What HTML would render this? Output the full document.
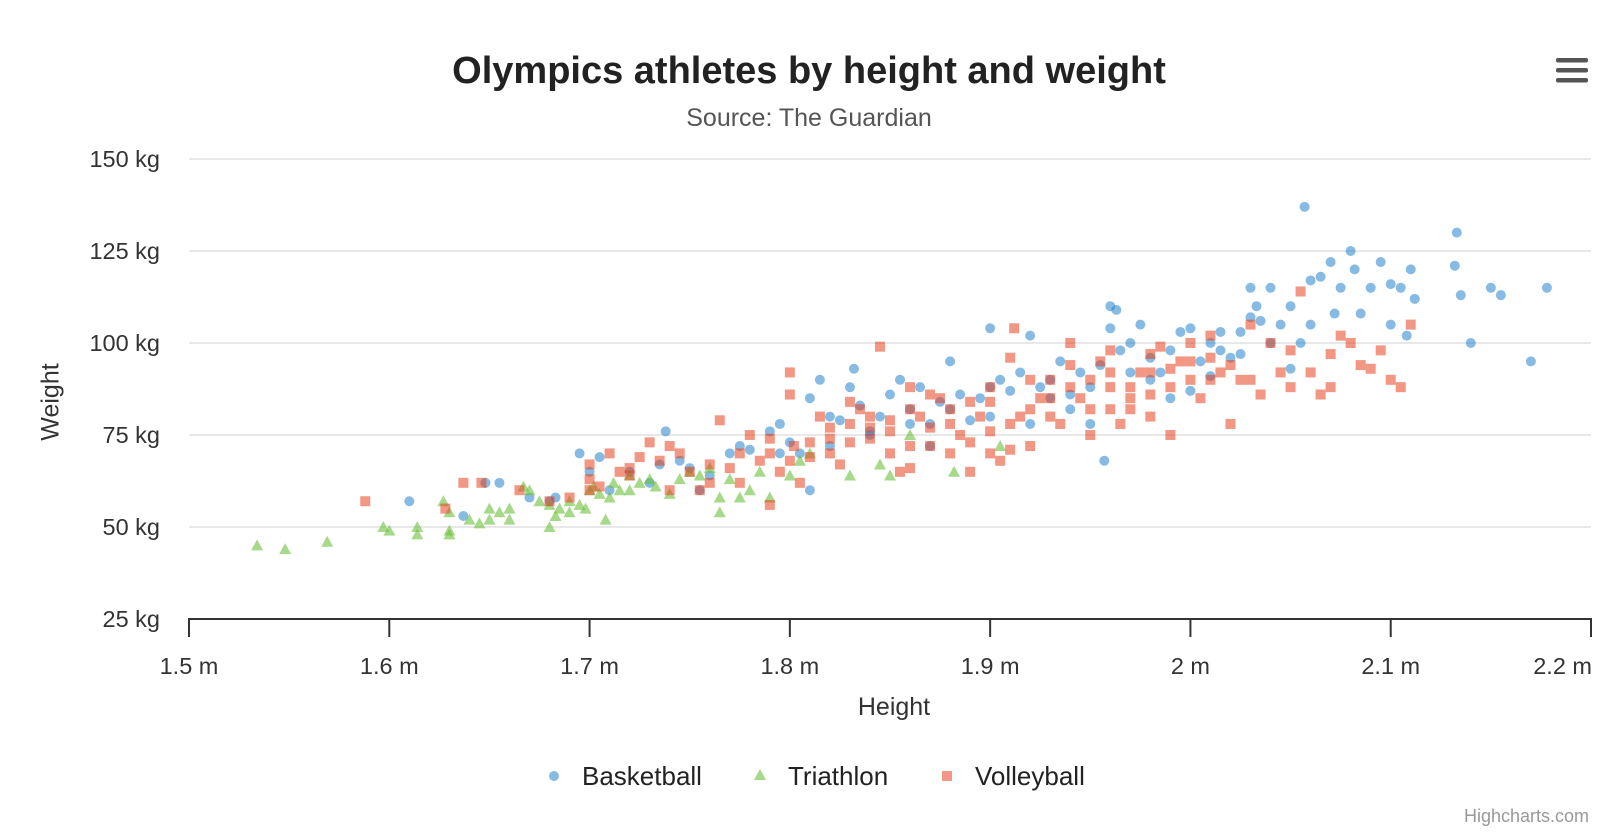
<!DOCTYPE html>
<html><head><meta charset="utf-8"><style>
html,body{margin:0;padding:0;background:#fff;}
svg{display:block;font-family:"Liberation Sans",Helvetica,Arial,sans-serif;}
</style></head><body>
<svg id="chart" width="1618" height="834" viewBox="0 0 1618 834">
<text x="809" y="83" text-anchor="middle" font-size="38" font-weight="bold" fill="#222">Olympics athletes by height and weight</text>
<text x="809" y="126" text-anchor="middle" font-size="25" fill="#555">Source: The Guardian</text>
<g>
<rect x="1556" y="58" width="32" height="4.5" rx="2" fill="#555"/>
<rect x="1556" y="68" width="32" height="4.5" rx="2" fill="#555"/>
<rect x="1556" y="78" width="32" height="4.5" rx="2" fill="#555"/>
</g>
<g id="grid"></g>
<g id="yticks"></g>
<g id="xaxis"></g>
<text x="52" y="402" transform="rotate(-90 52 402)" text-anchor="middle" dominant-baseline="middle" font-size="25" fill="#333">Weight</text>
<text x="894" y="715" text-anchor="middle" font-size="25" fill="#333">Height</text>
<g id="points"></g>
<g>
<g><circle cx="554" cy="776" r="5" fill="rgba(37,132,205,0.55)"/><text x="582" y="785" font-size="26" fill="#222">Basketball</text></g>
<g><polygon points="760,769 766,780 754,780" fill="rgba(107,191,59,0.6)"/><text x="788" y="785" font-size="26" fill="#222">Triathlon</text></g>
<g><rect x="942" y="771" width="10" height="10" fill="rgba(232,66,31,0.55)"/><text x="975" y="785" font-size="26" fill="#222">Volleyball</text></g>
</g>
<text x="1589" y="822" text-anchor="end" font-size="18" fill="#999">Highcharts.com</text>
</svg>
<script>
const xTicks=[1.5,1.6,1.7,1.8,1.9,2.0,2.1,2.2];
const xTickLabels=["1.5 m","1.6 m","1.7 m","1.8 m","1.9 m","2 m","2.1 m","2.2 m"];
const yTicks=[25,50,75,100,125,150];
const yTickLabels=["25 kg","50 kg","75 kg","100 kg","125 kg","150 kg"];
const triathlon=[[1.534,45],[1.548,44],[1.569,46],[1.597,50],[1.6,49],[1.614,50],[1.614,48],[1.627,57],[1.63,49],[1.63,48],[1.64,52],[1.645,51],[1.65,52],[1.655,54],[1.66,55],[1.66,52],[1.667,61],[1.67,60],[1.675,57],[1.68,56],[1.68,50],[1.683,53],[1.685,55],[1.69,57],[1.69,54],[1.695,56],[1.698,55],[1.7,60],[1.702,61],[1.705,59],[1.708,52],[1.71,58],[1.712,62],[1.715,60],[1.72,64],[1.725,62],[1.73,63],[1.733,61],[1.74,59],[1.745,63],[1.75,65],[1.755,64],[1.76,66],[1.765,58],[1.765,54],[1.77,63],[1.775,58],[1.78,60],[1.785,65],[1.79,58],[1.8,64],[1.805,68],[1.81,70],[1.83,64],[1.845,67],[1.85,64],[1.86,75],[1.882,65],[1.905,72],[1.63,54],[1.65,55],[1.72,60]];
const basketball=[[1.61,57],[1.637,53],[1.648,62],[1.655,62],[1.67,58],[1.68,57],[1.683,58],[1.695,70],[1.7,65],[1.705,69],[1.71,60],[1.72,65],[1.73,62],[1.735,67],[1.738,76],[1.745,68],[1.75,66],[1.755,60],[1.76,64],[1.77,70],[1.775,72],[1.78,71],[1.79,76],[1.795,78],[1.8,73],[1.805,70],[1.81,85],[1.815,90],[1.82,80],[1.825,79],[1.83,88],[1.832,93],[1.835,83],[1.84,75],[1.845,80],[1.85,86],[1.855,90],[1.86,82],[1.865,88],[1.87,78],[1.875,84],[1.88,95],[1.885,86],[1.89,79],[1.895,85],[1.9,88],[1.9,104],[1.905,90],[1.91,87],[1.915,92],[1.92,102],[1.925,88],[1.93,90],[1.935,95],[1.94,86],[1.945,92],[1.95,88],[1.955,94],[1.96,110],[1.963,109],[1.965,98],[1.97,100],[1.975,105],[1.98,96],[1.985,92],[1.99,98],[1.995,103],[2.0,104],[2.005,95],[2.01,100],[2.015,98],[2.02,96],[2.025,103],[2.03,115],[2.033,110],[2.035,106],[2.04,115],[2.045,105],[2.05,110],[2.055,100],[2.057,137],[2.06,117],[2.065,118],[2.07,122],[2.072,108],[2.075,115],[2.08,125],[2.082,120],[2.085,108],[2.09,115],[2.095,122],[2.1,116],[2.1,105],[2.105,115],[2.108,102],[2.11,120],[2.112,112],[2.133,130],[2.132,121],[2.135,113],[2.14,100],[2.15,115],[2.155,113],[2.17,95],[2.178,115],[1.957,68],[1.81,60],[1.795,70],[1.87,72],[1.94,82],[2.05,93],[2.0,87],[1.98,90],[1.92,78],[1.99,85],[2.01,91],[2.025,97],[2.04,100],[1.96,104],[1.97,92],[1.88,82],[1.86,78],[1.84,76],[1.82,72],[1.9,80],[1.93,85],[1.95,78],[2.015,103],[2.03,107],[2.06,105]];
const volleyball=[[1.588,57],[1.628,55],[1.637,62],[1.646,62],[1.665,60],[1.68,57],[1.69,58],[1.7,63],[1.705,61],[1.71,70],[1.715,65],[1.72,64],[1.725,69],[1.73,73],[1.735,68],[1.74,60],[1.745,70],[1.75,65],[1.755,60],[1.76,62],[1.765,79],[1.77,66],[1.775,62],[1.78,75],[1.785,68],[1.79,56],[1.795,65],[1.8,92],[1.8,86],[1.802,72],[1.805,62],[1.81,69],[1.815,80],[1.82,74],[1.825,67],[1.83,78],[1.835,82],[1.84,74],[1.845,99],[1.85,76],[1.855,65],[1.86,88],[1.865,80],[1.87,72],[1.875,85],[1.88,70],[1.885,75],[1.89,65],[1.895,80],[1.9,88],[1.905,68],[1.91,96],[1.912,104],[1.915,80],[1.92,72],[1.925,85],[1.93,90],[1.935,78],[1.94,100],[1.945,85],[1.95,82],[1.955,95],[1.96,98],[1.965,78],[1.97,88],[1.975,92],[1.98,86],[1.985,99],[1.99,75],[1.995,95],[2.0,90],[2.005,85],[2.01,102],[2.015,92],[2.02,78],[2.025,90],[2.03,105],[2.035,86],[2.04,100],[2.045,92],[2.05,98],[2.055,114],[2.06,92],[2.065,86],[2.07,97],[2.075,102],[2.08,100],[2.085,94],[2.09,93],[2.095,98],[2.1,90],[2.105,88],[2.11,105],[1.82,70],[1.83,73],[1.84,77],[1.85,79],[1.86,82],[1.87,77],[1.88,82],[1.89,84],[1.9,76],[1.91,78],[1.92,82],[1.93,85],[1.94,88],[1.95,90],[1.96,88],[1.97,85],[1.98,92],[1.99,88],[2.0,95],[2.01,90],[1.79,70],[1.8,68],[1.81,73],[1.84,80],[1.86,72],[1.88,78],[1.9,84],[1.92,90],[1.94,94],[1.96,92],[1.98,97],[2.0,100],[2.02,94],[1.775,70],[1.79,74],[1.83,84],[1.85,70],[1.87,86],[1.89,73],[1.91,71],[1.93,80],[1.95,75],[1.97,82],[1.99,93],[2.01,96],[2.03,90],[2.05,88],[2.07,88],[1.76,67],[1.74,72],[1.72,66],[1.7,67],[1.7,60],[1.82,77],[1.86,66],[1.9,70],[1.96,82],[1.98,80]];

const NS="http://www.w3.org/2000/svg";
const X0=189,X1=1591,Y0=619,Y1=159;
function xs(v){return X0+(v-1.5)/0.7*(X1-X0);}
function ys(v){return Y0-(v-25)/125*(Y0-Y1);}
function mk(tag,attrs,parent){const e=document.createElementNS(NS,tag);for(const k in attrs)e.setAttribute(k,attrs[k]);parent.appendChild(e);return e;}
const grid=document.getElementById('grid'),yt=document.getElementById('yticks'),xa=document.getElementById('xaxis'),pts=document.getElementById('points');
yTicks.forEach((v,i)=>{
  if(v>25){const l=mk('line',{x1:X0,x2:X1,y1:ys(v),y2:ys(v),stroke:'#e0e0e0','stroke-width':1.5},grid);
  
  }
  const t=mk('text',{x:160,y:ys(v)+8,'text-anchor':'end','font-size':23.5,fill:'#333'},yt);
  t.textContent=yTickLabels[i];
  
  
});
const ax=mk('line',{x1:X0-1,x2:X1+1,y1:Y0,y2:Y0,stroke:'#333','stroke-width':2},xa);


xTicks.forEach((v,i)=>{
  const tk=mk('line',{x1:xs(v),x2:xs(v),y1:Y0,y2:Y0+18,stroke:'#333','stroke-width':2},xa);
  
  
  const last=i===xTicks.length-1;
  const t=mk('text',{x:last?xs(v)+1:xs(v),y:674,'text-anchor':last?'end':'middle','font-size':23.5,fill:'#333'},xa);
  t.textContent=xTickLabels[i];
  
  
});
basketball.forEach(d=>{
  const c=mk('circle',{cx:xs(d[0]),cy:ys(d[1]),r:5,fill:'rgba(37,132,205,0.55)'},pts);
  
  
});
triathlon.forEach(d=>{
  const x=xs(d[0]),y=ys(d[1]);
  const p=mk('polygon',{points:`${x},${y-6} ${x+6},${y+5} ${x-6},${y+5}`,fill:'rgba(107,191,59,0.6)'},pts);
  
  
});
volleyball.forEach(d=>{
  const r=mk('rect',{x:xs(d[0])-5,y:ys(d[1])-5,width:10,height:10,fill:'rgba(232,66,31,0.55)'},pts);
  
  
});
</script>
</body></html>
